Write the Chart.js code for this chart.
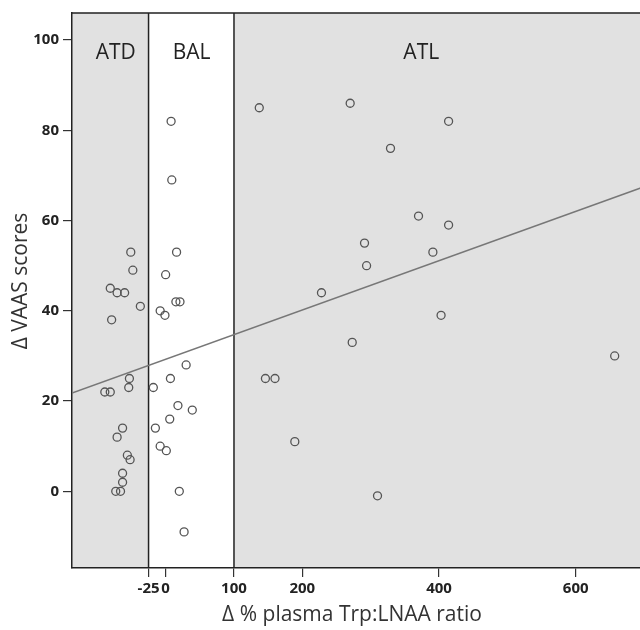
<!DOCTYPE html>
<html>
<head>
<meta charset="utf-8">
<script src="https://cdn.jsdelivr.net/npm/chart.js@4"></script>
<style>
  html, body { margin: 0; padding: 0; background: #fff; overflow: hidden; }
  #wrap { width: 648px; height: 630px; }
</style>
</head>
<body>
<div id="wrap"><canvas id="grafico"></canvas></div>
<script>
// Datos (x = delta % Trp:LNAA, y = delta VAAS)
const atdX = [-51, -48, -81, -71, -60, -37, -79, -53, -54, -89, -81, -63, -71, -56, -52, -63, -63, -73, -66];
const atdY = [53, 49, 45, 44, 44, 41, 38, 25, 23, 22, 22, 14, 12, 8, 7, 4, 2, 0, 0];
const balX = [8, 9, 16, 0, -8, -1, 15, 21, 30, 7, -18, 18, 39, 6, -15, -8, 1, 20, 27];
const balY = [82, 69, 53, 48, 40, 39, 42, 42, 28, 25, 23, 19, 18, 16, 14, 10, 9, 0, -9];
const atlX = [137, 270, 414, 329, 370, 414, 291, 391, 294, 228, 403, 273, 657, 146, 160, 189, 310];
const atlY = [85, 86, 82, 76, 61, 59, 55, 53, 50, 44, 39, 33, 30, 25, 25, 11, -1];

// recta de regresion (extremos)
const lineaX = [-137, 698];
const lineaY = [21.8, 67.4];

const xTicks = [-25, 0, 100, 200, 400, 600];
const yTicks = [0, 20, 40, 60, 80, 100];
const regionNames = ['ATD', 'BAL', 'ATL'];
const regionBreaks = [-25, 100];
const regionLabelX = [-73, 38, 374];   // donde va cada rotulo (valor x)
const regionLabelY = 100;

const xTitle = '\u0394 % plasma Trp:LNAA ratio';
const yTitle = '\u0394 VAAS scores';

const toPts = (xs, ys) => xs.map((v, i) => ({ x: v, y: ys[i] }));

const fondo = {
    id: 'fondo',
    beforeDraw(chart) {
        const { ctx, chartArea: a, scales: { x } } = chart;
        const x1 = x.getPixelForValue(regionBreaks[0]);
        const x2 = x.getPixelForValue(regionBreaks[1]);
        ctx.save();
        ctx.fillStyle = '#e1e1e1';
        ctx.fillRect(a.left, a.top, a.right - a.left, a.bottom - a.top);
        ctx.fillStyle = '#ffffff';
        ctx.fillRect(x1, a.top, x2 - x1, a.bottom - a.top);
        ctx.restore();
    },
    beforeDatasetsDraw(chart) {
        const { ctx, chartArea: a, scales: { x, y } } = chart;
        const x1 = x.getPixelForValue(regionBreaks[0]);
        const x2 = x.getPixelForValue(regionBreaks[1]);
        ctx.save();
        ctx.strokeStyle = '#222';
        ctx.lineWidth = 1.5;
        ctx.beginPath();
        ctx.moveTo(x1, a.top); ctx.lineTo(x1, a.bottom);
        ctx.moveTo(x2, a.top); ctx.lineTo(x2, a.bottom);
        ctx.moveTo(a.left, a.top); ctx.lineTo(a.right, a.top);
        ctx.stroke();

        // etiquetas de las zonas
        ctx.fillStyle = '#222';
        ctx.font = '21px "Open Sans", sans-serif';
        ctx.textAlign = 'center';
        ctx.textBaseline = 'middle';
        regionNames.forEach((n, i) => ctx.fillText(n, x.getPixelForValue(regionLabelX[i]), y.getPixelForValue(regionLabelY) + 13));
        ctx.restore();
    },
    afterDraw(chart) {
        const { ctx } = chart;
        ctx.save();
        ctx.fillStyle = '#333';
        ctx.font = '21px "Open Sans", sans-serif';
        ctx.textAlign = 'center';
        ctx.textBaseline = 'alphabetic';
        ctx.fillText(xTitle, 352, 621);
        ctx.translate(27, 281);
        ctx.rotate(-Math.PI / 2);
        ctx.fillText(yTitle, 0, 0);
        ctx.restore();
    }
};

const tickFont = { family: '"Open Sans", sans-serif', size: 15, weight: 'bold' };
const punto = {
    pointStyle: 'circle',
    pointRadius: 4,
    pointBorderWidth: 1.3,
    pointBorderColor: '#555',
    pointBackgroundColor: 'rgba(0,0,0,0)',
    showLine: false
};

new Chart(document.getElementById('grafico'), {
    type: 'scatter',
    data: {
        datasets: [
            { label: 'ATD', data: toPts(atdX, atdY), ...punto },
            { label: 'BAL', data: toPts(balX, balY), ...punto },
            { label: 'ATL', data: toPts(atlX, atlY), ...punto },
            {
                label: 'Regresion',
                data: toPts(lineaX, lineaY),
                showLine: true,
                pointRadius: 0,
                borderColor: '#777',
                borderWidth: 1.5
            }
        ]
    },
    options: {
        responsive: true,
        maintainAspectRatio: false,
        animation: false,
        layout: { padding: { top: 12, right: 0, left: 0, bottom: 0 } },
        plugins: {
            legend: { display: false },
            tooltip: { enabled: false }
        },
        scales: {
            x: {
                type: 'linear',
                min: -137,
                max: 698,
                afterBuildTicks: s => { s.ticks = xTicks.map(v => ({ value: v })); },
                afterFit: s => { s.height = 62; },
                ticks: {
                    autoSkip: false,
                    maxRotation: 0,
                    color: '#222',
                    font: tickFont,
                    padding: 3
                },
                grid: { display: true, drawOnChartArea: false, drawTicks: true, tickLength: 9, color: '#333', lineWidth: 1.2 },
                border: { display: true, color: '#222', width: 1.5 },
                title: { display: false }
            },
            y: {
                type: 'linear',
                min: -17,
                max: 106,
                afterBuildTicks: s => { s.ticks = yTicks.map(v => ({ value: v })); },
                afterFit: s => { s.width = 72; },
                ticks: {
                    color: '#222',
                    font: tickFont,
                    padding: 4
                },
                grid: { display: true, drawOnChartArea: false, drawTicks: true, tickLength: 9, color: '#333', lineWidth: 1.2 },
                border: { display: true, color: '#222', width: 1.5 },
                title: { display: false }
            }
        }
    },
    plugins: [fondo]
});
</script>
</body>
</html>
